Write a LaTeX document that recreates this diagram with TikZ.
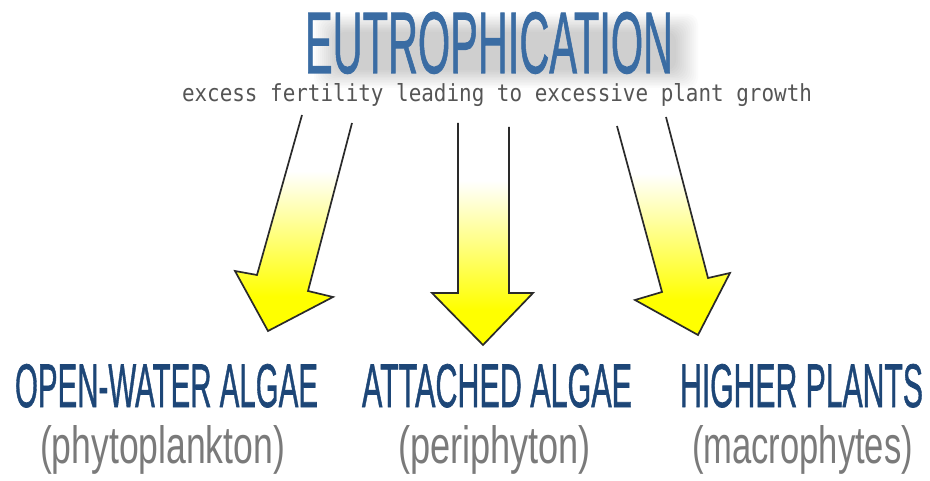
\documentclass[tikz,border=0pt]{standalone}
\usepackage{fontspec}
\setmainfont{Liberation Sans}
\newfontfamily\headfont[FakeBold=1.2]{Liberation Sans}
\newfontfamily\monofnt{DejaVu Sans Mono}
\usepackage{graphicx}
\definecolor{titleblue}{HTML}{3A6CA3}
\definecolor{headblue}{HTML}{1D4677}
\definecolor{parengray}{HTML}{7A7A7A}
\definecolor{subgray}{HTML}{555555}
\definecolor{outlinegray}{HTML}{2A2A2A}
\pgfdeclareverticalshading{arrowfade}{100bp}{color(0bp)=(yellow); color(33bp)=(yellow); color(62bp)=(white); color(100bp)=(white)}
\tikzset{
  txt/.style={anchor=base west, inner sep=0pt, outer sep=0pt},
  arrowfill/.style={shading=arrowfade},
  arrowline/.style={draw=outlinegray, line width=1.7pt, line join=miter},
  haze/.style={fill=black, opacity=0.016, rounded corners=10pt},
}
\begin{document}
\begin{tikzpicture}[x=1pt,y=-1pt]
\useasboundingbox[fill=white] (0,0) rectangle (930,481);
% title shadow haze
\foreach \k in {0,...,11}{
  \path[haze] (314+2*\k,14+1.6*\k) rectangle (698-2*\k,88-1.6*\k);
}
\node[txt, text=titleblue] (title) at (305,73) {\resizebox{368pt}{61pt}{\headfont EUTROPHICATION}};
\node[txt, text=subgray] (sub) at (182,102) {\resizebox{630pt}{18pt}{\monofnt excess fertility leading to excessive plant growth}};
% arrows
\path[arrowfill] (302,115) -- (257,275) -- (235,271) -- (268,331) -- (333,297) -- (308,291) -- (352,123) -- cycle;
\draw[arrowline] (302,115) -- (257,275) -- (235,271) -- (268,331) -- (333,297) -- (308,291) -- (352,123);
\path[arrowfill] (458,123) -- (458,293) -- (432,293) -- (483,345) -- (533,293) -- (509,293) -- (509,127) -- cycle;
\draw[arrowline] (458,123) -- (458,293) -- (432,293) -- (483,345) -- (533,293) -- (509,293) -- (509,127);
\path[arrowfill] (617,126) -- (662,292) -- (635,300) -- (698,335) -- (730,273) -- (708,278) -- (666,117) -- cycle;
\draw[arrowline] (617,126) -- (662,292) -- (635,300) -- (698,335) -- (730,273) -- (708,278) -- (666,117);
% labels
\node[txt, text=headblue] (h1) at (15,407) {\resizebox{303pt}{43pt}{\headfont OPEN-WATER ALGAE}};
\node[txt, text=parengray] (p1) at (40,463) {\resizebox{245pt}{38pt}{(phytoplankton)}};
\node[txt, text=headblue] (h2) at (362,407) {\resizebox{270pt}{43pt}{\headfont ATTACHED ALGAE}};
\node[txt, text=parengray] (p2) at (398,463) {\resizebox{193pt}{38pt}{(periphyton)}};
\node[txt, text=headblue] (h3) at (680,407) {\resizebox{243pt}{43pt}{\headfont HIGHER PLANTS}};
\node[txt, text=parengray] (p3) at (692,463) {\resizebox{221pt}{38pt}{(macrophytes)}};
\end{tikzpicture}
\end{document}
